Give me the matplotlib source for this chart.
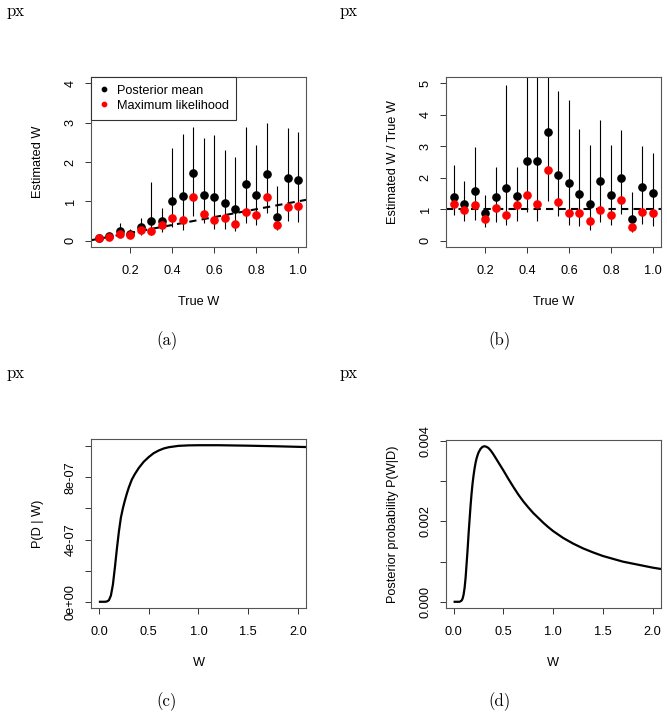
import numpy as np
import matplotlib
matplotlib.use("Agg")
from matplotlib import pyplot as plt

plt.rcParams['font.family'] = ['Liberation Sans', 'DejaVu Sans']
plt.rcParams['font.size'] = 9.2

# Panels (a) and (b): simulation results
true_w = np.array([0.05, 0.10, 0.15, 0.20, 0.25, 0.30, 0.35, 0.40, 0.45, 0.50,
                   0.55, 0.60, 0.65, 0.70, 0.75, 0.80, 0.85, 0.90, 0.95, 1.00])
post_ratio = np.array([1.38, 1.18, 1.59, 0.87, 1.38, 1.67, 1.43, 2.54, 2.54, 3.46,
                       2.10, 1.83, 1.49, 1.15, 1.91, 1.46, 1.99, 0.68, 1.69, 1.53])
ml_ratio = np.array([1.17, 0.98, 1.14, 0.68, 1.04, 0.82, 1.12, 1.45, 1.15, 2.23,
                     1.23, 0.89, 0.87, 0.62, 0.98, 0.82, 1.30, 0.44, 0.91, 0.89])
low_ratio = np.array([0.82, 0.63, 0.67, 0.42, 0.60, 0.49, 0.63, 0.90, 0.62, 1.25,
                      0.80, 0.49, 0.47, 0.34, 0.60, 0.51, 0.84, 0.29, 0.52, 0.48])
high_ratio = np.array([2.40, 1.89, 2.97, 1.44, 2.34, 4.94, 2.34, 5.90, 6.00, 5.76,
                       4.75, 4.48, 3.56, 3.03, 3.84, 3.03, 3.52, 1.55, 3.01, 2.77])

# Panel (c): likelihood P(D | W), in units of 1e-7
lik_w = [0.01, 0.06, 0.08, 0.10, 0.12, 0.14, 0.16, 0.18, 0.20, 0.22, 0.24, 0.26, 0.28,
         0.30, 0.33, 0.36, 0.40, 0.45, 0.50, 0.55, 0.60, 0.65, 0.70, 0.80, 0.90,
         1.00, 1.20, 1.50, 1.80, 2.10]
lik_p = [0, 0, 0.02, 0.1, 0.4, 1.1, 2.2, 3.4, 4.5, 5.4, 6.0, 6.5, 6.95,
         7.35, 7.85, 8.2, 8.6, 9.0, 9.3, 9.55, 9.72, 9.85, 9.93, 10.02, 10.05,
         10.06, 10.06, 10.03, 9.99, 9.94]

# Panel (d): posterior P(W|D), in units of 1e-3
post_w = [0.01, 0.06, 0.08, 0.09, 0.10, 0.11, 0.12, 0.13, 0.14, 0.15, 0.16, 0.17, 0.18,
          0.19, 0.20, 0.21, 0.22, 0.23, 0.24, 0.25, 0.27, 0.29, 0.31, 0.33, 0.35,
          0.375, 0.40, 0.425, 0.45, 0.475, 0.50, 0.55, 0.60, 0.65, 0.70, 0.75, 0.80,
          0.85, 0.90, 0.95, 1.00, 1.10, 1.20, 1.30, 1.40, 1.50, 1.60, 1.70, 1.80,
          1.90, 2.00, 2.10]
post_p = [0, 0, 0.03, 0.08, 0.18, 0.35, 0.6, 0.95, 1.3, 1.7, 2.05, 2.4, 2.7,
          2.95, 3.15, 3.32, 3.46, 3.57, 3.65, 3.72, 3.81, 3.86, 3.875, 3.86, 3.83,
          3.76, 3.67, 3.57, 3.47, 3.37, 3.27, 3.06, 2.86, 2.67, 2.5, 2.35, 2.21,
          2.09, 1.97, 1.86, 1.76, 1.59, 1.45, 1.33, 1.23, 1.14, 1.07, 1.0, 0.95,
          0.90, 0.85, 0.81]

W, H = 667, 713
fig = plt.figure(figsize=(W / 100, H / 100), dpi=100)


def r_axes(left, top, right, bottom):
    ax = fig.add_axes([left / W, 1 - bottom / H, (right - left) / W, (bottom - top) / H])
    for s in ax.spines.values():
        s.set_color('#555555')
        s.set_linewidth(0.8)
    ax.tick_params(direction='out', length=4.5, width=0.7, color='#333333')
    ax.tick_params(axis='x', pad=8.5)
    ax.tick_params(axis='y', pad=10)
    return ax


def labels(ax, xl, yl, box_w, box_h):
    ax.set_xlabel(xl)
    ax.set_ylabel(yl)
    ax.xaxis.set_label_coords(0.5, -55 / box_h)
    ax.xaxis.label.set_va('center')
    ax.yaxis.set_label_coords(-53 / box_w, 0.5)
    ax.yaxis.label.set_va('center')


def fix_ylabels(ax):
    for lab in ax.get_yticklabels():
        lab.set_va('center')
        lab.set_ha('center')
        lab.set_rotation(90)


# (a)
ax = r_axes(91, 77, 306, 247)
ax.vlines(true_w, low_ratio * true_w, high_ratio * true_w, color='black', lw=0.8)
ax.axline((0, 0), slope=1, color='black', lw=1.5, dashes=(3.5, 2.5))
ax.plot(true_w, post_ratio * true_w, 'o', color='black', ms=5.2, label='Posterior mean')
ax.plot(true_w, ml_ratio * true_w, 'o', color='red', ms=5.2, label='Maximum likelihood')
ax.set_xlim(0.012, 1.038)
ax.set_ylim(-0.16, 4.16)
ax.set_xticks([0.2, 0.4, 0.6, 0.8, 1.0])
ax.set_xticklabels(['0.2', '0.4', '0.6', '0.8', '1.0'])
ax.set_yticks([0, 1, 2, 3, 4])
fix_ylabels(ax)
labels(ax, 'True W', 'Estimated W', 215, 170)
leg = ax.legend(loc='upper left', bbox_to_anchor=(0, 1), borderaxespad=0, fancybox=False,
                markerscale=0.6, handlelength=0.8, handletextpad=0.6, labelspacing=0.25,
                borderpad=0.6, framealpha=1)
leg.get_frame().set_edgecolor('#333333')
leg.get_frame().set_linewidth(0.8)

# (b)
ax = r_axes(445.7, 77, 660.7, 247)
ax.vlines(true_w, low_ratio, high_ratio, color='black', lw=0.8)
ax.axhline(1, color='black', lw=1.5, dashes=(3.5, 2.5))
ax.plot(true_w, post_ratio, 'o', color='black', ms=5.2)
ax.plot(true_w, ml_ratio, 'o', color='red', ms=5.2)
ax.set_xlim(0.012, 1.038)
ax.set_ylim(-0.2, 5.2)
ax.set_xticks([0.2, 0.4, 0.6, 0.8, 1.0])
ax.set_xticklabels(['0.2', '0.4', '0.6', '0.8', '1.0'])
ax.set_yticks([0, 1, 2, 3, 4, 5])
fix_ylabels(ax)
labels(ax, 'True W', 'Estimated W / True W', 215, 170)

# (c)
ax = r_axes(91, 439, 306, 608)
ax.plot(lik_w, np.array(lik_p) * 1e-7, color='black', lw=1.6)
ax.set_xlim(-0.08, 2.08)
ax.set_ylim(-0.4e-7, 10.46e-7)
ax.set_xticks([0, 0.5, 1.0, 1.5, 2.0])
ax.set_xticklabels(['0.0', '0.5', '1.0', '1.5', '2.0'])
ax.set_yticks([0, 2e-7, 4e-7, 6e-7, 8e-7, 1e-6])
ax.set_yticklabels(['0e+00', '', '4e-07', '', '8e-07', ''])
fix_ylabels(ax)
labels(ax, 'W', 'P(D | W)', 215, 169)

# (d)
ax = r_axes(445.7, 440, 660.7, 608)
ax.plot(post_w, np.array(post_p) * 1e-3, color='black', lw=1.6)
ax.set_xlim(-0.08, 2.08)
ax.set_ylim(-0.000155, 0.00403)
ax.set_xticks([0, 0.5, 1.0, 1.5, 2.0])
ax.set_xticklabels(['0.0', '0.5', '1.0', '1.5', '2.0'])
ax.set_yticks([0, 0.001, 0.002, 0.003, 0.004])
ax.set_yticklabels(['0.000', '', '0.002', '', '0.004'])
fix_ylabels(ax)
labels(ax, 'W', 'Posterior probability P(W|D)', 215, 168)

# subfigure labels
serif = dict(family='cmr10', fontsize=12)
for x0, y0, cap, ycap in [(7, 11, '(a)', 341), (340, 11, '(b)', 341),
                          (7, 373, '(c)', 702), (340, 373, '(d)', 702)]:
    fig.text(x0 / W, 1 - y0 / H, 'px', ha='left', va='center', **serif)
    xc = 167 if x0 < 100 else 500
    fig.text(xc / W, 1 - ycap / H, cap, ha='center', va='center', **serif)

fig.savefig('out.png', dpi=100)
